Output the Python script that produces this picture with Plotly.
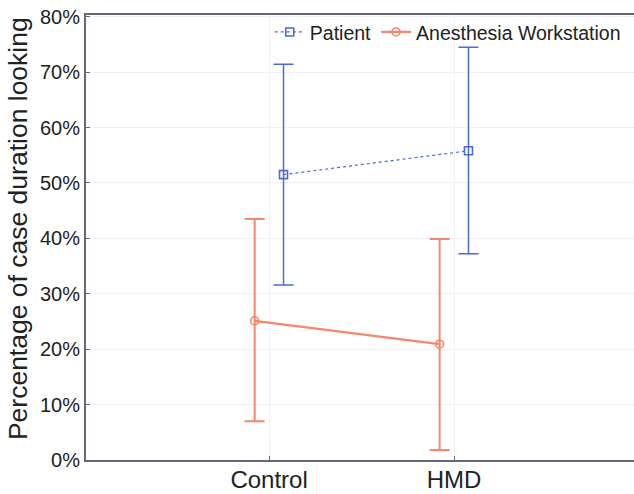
import plotly.graph_objects as go

categories = ["Control", "HMD"]
cat_pos = [0, 1]
patient_mean = [51.5, 55.8]
patient_upper = [71.4, 74.5]
patient_lower = [31.6, 37.2]
ws_mean = [25.1, 20.9]
ws_upper = [43.5, 39.9]
ws_lower = [7.0, 1.8]
y_ticks = [0, 10, 20, 30, 40, 50, 60, 70, 80]
y_title = "Percentage of case duration looking"

blue = "#4a6bd8"
salmon = "#f7876b"
offset = 0.078

fig = go.Figure()
fig.add_trace(go.Scatter(
    x=[p + offset for p in cat_pos], y=patient_mean, name="Patient",
    mode="lines+markers",
    line=dict(color=blue, width=1.2, dash="dot"),
    marker=dict(symbol="square-open", size=8, color=blue, line=dict(width=1.6)),
    error_y=dict(type="data", symmetric=False,
                 array=[u - m for u, m in zip(patient_upper, patient_mean)],
                 arrayminus=[m - l for m, l in zip(patient_mean, patient_lower)],
                 color=blue, thickness=1.5, width=10),
))
fig.add_trace(go.Scatter(
    x=[p - offset for p in cat_pos], y=ws_mean, name="Anesthesia Workstation",
    mode="lines+markers",
    line=dict(color=salmon, width=2.2),
    marker=dict(symbol="circle-open", size=8, color=salmon, line=dict(width=1.6)),
    error_y=dict(type="data", symmetric=False,
                 array=[u - m for u, m in zip(ws_upper, ws_mean)],
                 arrayminus=[m - l for m, l in zip(ws_mean, ws_lower)],
                 color=salmon, thickness=2, width=10),
))

fig.add_annotation(
    text=y_title, textangle=-90, xref="paper", yref="paper",
    x=-0.124, y=0.519, xanchor="center", yanchor="middle", showarrow=False,
    font=dict(size=26.5, color="#222"),
)

fig.update_layout(
    width=634, height=494,
    margin=dict(l=86, r=0, t=15, b=34),
    paper_bgcolor="white", plot_bgcolor="white",
    font=dict(family="Liberation Sans, Arial, sans-serif", color="#222"),
    showlegend=True,
    legend=dict(orientation="h", x=0.985, xanchor="right", y=1.005, yanchor="top",
                bgcolor="rgba(255,255,255,0)", font=dict(size=19.5, color="#222"),
                tracegroupgap=0),
    xaxis=dict(range=[-0.99, 1.973], tickmode="array", tickvals=cat_pos, ticktext=categories,
               tickfont=dict(size=24, color="#222"), showgrid=True, gridcolor="#f1f1f6",
               zeroline=False, showline=True, linecolor="#667", linewidth=2,
               ticks="inside", ticklen=4, tickcolor="#667", mirror=True, automargin=False,
               ticklabelstandoff=-3),
    yaxis=dict(range=[0, 80.3], tickmode="array", tickvals=y_ticks,
               ticktext=[f"{v}%" for v in y_ticks],
               tickfont=dict(size=20, color="#222"), showgrid=True, gridcolor="#f1f1f6",
               zeroline=False, showline=True, linecolor="#667", linewidth=2,
               ticks="inside", ticklen=4, tickcolor="#667", mirror=True, automargin=False),
)

fig.write_html("out.html", config={"displayModeBar": False},
               post_script="document.body.style.margin='0';")
